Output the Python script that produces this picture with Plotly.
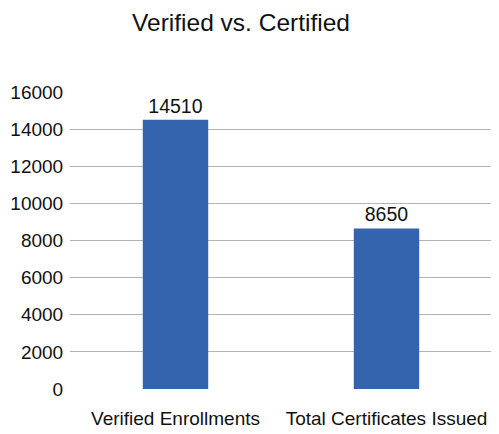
import plotly.graph_objects as go

categories = ["Verified Enrollments", "Total Certificates Issued"]
values = [14510, 8650]
labels = ["14510", "8650"]
y_ticks = [0, 2000, 4000, 6000, 8000, 10000, 12000, 14000, 16000]
y_tick_text = ["0", "2000", "4000", "6000", "8000", "10000", "12000", "14000", "16000"]

W, H = 491, 426  # page has an 8px body margin

fig = go.Figure(go.Bar(
    x=categories, y=values, text=labels, textposition="outside",
    textfont=dict(size=19.5, color="#111111"),
    marker=dict(color="#3464AD", line=dict(width=0)),
    cliponaxis=False,
))

fig.update_layout(
    width=W, height=H,
    margin=dict(l=62, r=7, t=84, b=45, autoexpand=False),
    paper_bgcolor="white", plot_bgcolor="white",
    font=dict(family="Liberation Sans, Arial, sans-serif", size=19, color="#111111"),
    title=dict(text="Verified vs. Certified", x=233 / W, xref="container", xanchor="center",
               y=1 - 14 / H, yref="container", yanchor="middle", font=dict(size=24.5, color="#111111")),
    bargap=0.69,
    showlegend=False,
)
fig.update_yaxes(range=[0, 16000], tickvals=y_ticks, ticktext=y_tick_text, showgrid=True,
                 gridcolor="#b4b4b4", gridwidth=1, zeroline=False, showline=False,
                 ticks="outside", ticklen=2, tickcolor="rgba(0,0,0,0)",
                 tickfont=dict(size=19), automargin=False)
fig.update_xaxes(showgrid=False, showline=False, ticks="outside", ticklen=12,
                 tickcolor="rgba(0,0,0,0)", tickfont=dict(size=19), automargin=False)

fig.write_html("out.html")
